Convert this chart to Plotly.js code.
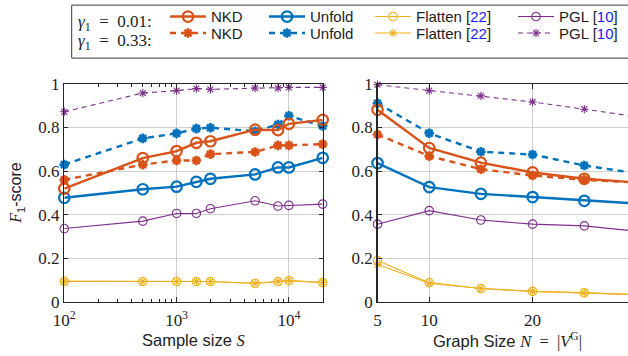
<!DOCTYPE html>
<html>
<head>
<meta charset="utf-8">
<script src="https://cdn.plot.ly/plotly-3.0.1.min.js"></script>
<style>html,body{margin:0;padding:0;background:#fff;}#chart{width:628px;height:356px;}</style>
</head>
<body>
<div id="chart"></div>
<script>
// ---- data ----
const sampleSizes = [100, 500, 1000, 1500, 2000, 5000, 8000, 10000, 20000];
const nkd001S    = [0.520, 0.660, 0.692, 0.730, 0.737, 0.790, 0.788, 0.817, 0.835];
const unfold001S = [0.478, 0.517, 0.529, 0.551, 0.565, 0.585, 0.617, 0.617, 0.661];
const flatten001S= [0.095, 0.094, 0.094, 0.094, 0.094, 0.085, 0.094, 0.098, 0.089];
const pgl001S    = [0.337, 0.371, 0.406, 0.406, 0.428, 0.464, 0.440, 0.443, 0.449];
const nkd033S    = [0.560, 0.630, 0.649, 0.649, 0.678, 0.688, 0.718, 0.718, 0.724];
const unfold033S = [0.630, 0.750, 0.773, 0.795, 0.799, 0.783, 0.814, 0.854, 0.807];
const flatten033S= [0.095, 0.095, 0.094, 0.095, 0.094, 0.086, 0.095, 0.099, 0.090];
const pgl033S    = [0.872, 0.958, 0.969, 0.978, 0.975, 0.981, 0.981, 0.984, 0.984];

const graphSizes = [5, 10, 15, 20, 25, 30];
const nkd001N    = [0.881, 0.706, 0.639, 0.594, 0.565, 0.548];
const unfold001N = [0.637, 0.527, 0.496, 0.481, 0.464, 0.452];
const flatten001N= [0.190, 0.089, 0.062, 0.049, 0.042, 0.034];
const pgl001N    = [0.357, 0.419, 0.376, 0.357, 0.349, 0.325];
const nkd033N    = [0.768, 0.669, 0.609, 0.580, 0.560, 0.548];
const unfold033N = [0.911, 0.774, 0.689, 0.676, 0.626, 0.590];
const flatten033N= [0.172, 0.086, 0.062, 0.049, 0.042, 0.034];
const pgl033N    = [0.996, 0.969, 0.945, 0.917, 0.884, 0.850];

const methodNames = ['NKD', 'Unfold', 'Flatten [<span style="color:#1a1aff">22</span>]', 'PGL [<span style="color:#1a1aff">10</span>]'];
const gammaLabels = ['<i>γ</i><sub>1</sub>\u2002=\u20020.01:', '<i>γ</i><sub>1</sub>\u2002=\u20020.33:'];
const yTickVals = [0, 0.2, 0.4, 0.6, 0.8, 1];
const yTickText = ['0', '0.2', '0.4', '0.6', '0.8', '1'];
const xTickValsS = [100, 1000, 10000];
const xTickTextS = ['10<sup>2</sup>', '10<sup>3</sup>', '10<sup>4</sup>'];
const xTickValsN = [5, 10, 20, 30];
const xTickTextN = ['5', '10', '20', '30'];

// ---- styles ----
const colors = ['#D95319', '#0072BD', '#EDB120', '#7E2F8E'];
const thick = [true, true, false, false];
const dashedLine = [true, true, false, true];
const legendX = [168, 267, 373, 516];   // px: left of legend sample
const legendTop = [-10, 7];             // px: top of legend boxes per row

function mk(x, y, m, row, xa, ya, showLeg) {
  const dashed = row === 1;
  const w = thick[m] ? 2.4 : 1.1;
  const k = m * 2 + row + 1;
  return {
    x: x, y: y, xaxis: xa, yaxis: ya, type: 'scatter', mode: 'lines+markers',
    name: methodNames[m], legend: 'legend' + (k === 1 ? '' : k), showlegend: showLeg,
    cliponaxis: false,
    line: {color: colors[m], width: w, dash: (dashed && dashedLine[m]) ? (thick[m] ? '6px,5px' : '5px,4px') : 'solid'},
    marker: dashed
      ? {symbol: 'asterisk-open', size: thick[m] ? 8 : 7, color: colors[m], line: {color: colors[m], width: thick[m] ? 2.6 : 1.1}}
      : {symbol: 'circle-open', size: thick[m] ? 10.5 : 8.5, color: colors[m], line: {color: colors[m], width: thick[m] ? 2.2 : 1.1}}
  };
}

const sSets = [[nkd001S, nkd033S], [unfold001S, unfold033S], [flatten001S, flatten033S], [pgl001S, pgl033S]];
const nSets = [[nkd001N, nkd033N], [unfold001N, unfold033N], [flatten001N, flatten033N], [pgl001N, pgl033N]];
const traces = [];
for (let m = 3; m >= 0; m--) {
  traces.push(mk(graphSizes, nSets[m][1], m, 1, 'x2', 'y2', false));
  traces.push(mk(graphSizes, nSets[m][0], m, 0, 'x2', 'y2', false));
}
for (let m = 3; m >= 0; m--) {
  traces.push(mk(sampleSizes, sSets[m][1], m, 1, 'x', 'y', true));
  traces.push(mk(sampleSizes, sSets[m][0], m, 0, 'x', 'y', true));
}

const W = 628, H = 356;
const px = v => v / W, py = v => 1 - v / H;
const serif = 'Liberation Serif, DejaVu Serif, serif';
const sans = 'Liberation Sans, Arial, sans-serif';
const axisCol = '#262626';
const gridCol = '#cfcfcf';
const tickFont = {family: serif, size: 17, color: '#222'};

const yBase = {
  range: [0, 1], tickmode: 'array', tickvals: yTickVals, ticktext: yTickText,
  ticks: 'inside', ticklen: 4, tickcolor: axisCol, tickwidth: 1,
  showline: true, linecolor: axisCol, linewidth: 1.3,
  showgrid: true, gridcolor: gridCol, gridwidth: 1, zeroline: false,
  tickfont: tickFont, automargin: false, fixedrange: true,
  domain: [py(300.5), py(76)]
};

const minorS = [];
[100, 1000, 10000].forEach(d => { for (let k = 2; k <= 9; k++) if (d * k <= 20000) minorS.push(d * k); });

const layout = {
  width: W, height: H, margin: {l: 0, r: 0, t: 0, b: 0},
  paper_bgcolor: '#fff', plot_bgcolor: '#fff', showlegend: true,
  xaxis: {
    type: 'log', range: [2, Math.log10(20000)], domain: [px(64.3), px(322.7)], anchor: 'y',
    tickmode: 'array', tickvals: xTickValsS, ticktext: xTickTextS,
    ticks: 'inside', ticklen: 5, tickcolor: axisCol, mirror: 'ticks', ticklabelstandoff: 2,
    minor: {tickmode: 'array', tickvals: minorS, ticks: 'inside', ticklen: 3, tickcolor: axisCol, showgrid: false},
    showline: true, linecolor: axisCol, linewidth: 1.3, showgrid: true, gridcolor: gridCol, zeroline: false,
    tickfont: tickFont, automargin: false, fixedrange: true
  },
  yaxis: Object.assign({}, yBase, {anchor: 'x', mirror: 'ticks'}),
  xaxis2: {
    range: [5, 5 + (628 - 377.5) / 10.34], domain: [px(377.5), 1], anchor: 'y2',
    tickmode: 'array', tickvals: xTickValsN, ticktext: xTickTextN,
    ticks: 'inside', ticklen: 5, tickcolor: axisCol, mirror: 'ticks', ticklabelstandoff: 2,
    showline: true, linecolor: axisCol, linewidth: 1.3, showgrid: true, gridcolor: gridCol, zeroline: false,
    tickfont: tickFont, automargin: false, fixedrange: true
  },
  yaxis2: Object.assign({}, yBase, {anchor: 'x2', mirror: false}),
  shapes: [
    {type: 'rect', xref: 'paper', yref: 'paper', x0: px(71.7), x1: px(640), y0: py(49.5), y1: py(-5),
     line: {color: '#3a3a3a', width: 1}, fillcolor: 'rgba(0,0,0,0)', layer: 'below'}
  ],
  annotations: [
    {xref: 'paper', yref: 'paper', x: px(17), y: py(188), xanchor: 'center', yanchor: 'middle', showarrow: false, textangle: -90,
     text: '<span style="font-family:Liberation Serif"><i>F</i></span><sub>1</sub>-score', font: {family: sans, size: 16, color: '#222'}},
    {xref: 'paper', yref: 'paper', x: px(193.5), y: py(340), xanchor: 'center', yanchor: 'middle', showarrow: false,
     text: 'Sample size <span style="font-family:Liberation Serif"><i>S</i></span>', font: {family: sans, size: 16.5, color: '#222'}},
    {xref: 'paper', yref: 'paper', x: px(507), y: py(340), xanchor: 'center', yanchor: 'middle', showarrow: false,
     text: 'Graph Size <span style="font-family:Liberation Serif"><i>N</i>  =  |<i>V</i><sup>G</sup>|</span>', font: {family: sans, size: 16.5, color: '#222'}}
  ]
};

// legends: one per entry, placed on the grid of the reference legend
for (let m = 0; m < 4; m++) {
  for (let r = 0; r < 2; r++) {
    const k = m * 2 + r + 1;
    layout['legend' + (k === 1 ? '' : k)] = {
      orientation: 'v', xanchor: 'left', yanchor: 'top', bgcolor: 'rgba(0,0,0,0)', borderwidth: 0,
      font: {family: sans, size: 15, color: '#222'}, tracegroupgap: 0, itemclick: false, itemdoubleclick: false,
      itemwidth: 36,
      x: px(legendX[m] - 3), y: py(legendTop[r])
    };
  }
}
const gammaRowY = [13, 33];
gammaLabels.forEach((t, r) => layout.annotations.push(
  {xref: 'paper', yref: 'paper', x: px(76), y: py(gammaRowY[r]), xanchor: 'left', yanchor: 'middle', showarrow: false,
   text: t, font: {family: serif, size: 17, color: '#222'}}));

Plotly.newPlot('chart', traces, layout, {staticPlot: true, displayModeBar: false});
</script>
</body>
</html>
